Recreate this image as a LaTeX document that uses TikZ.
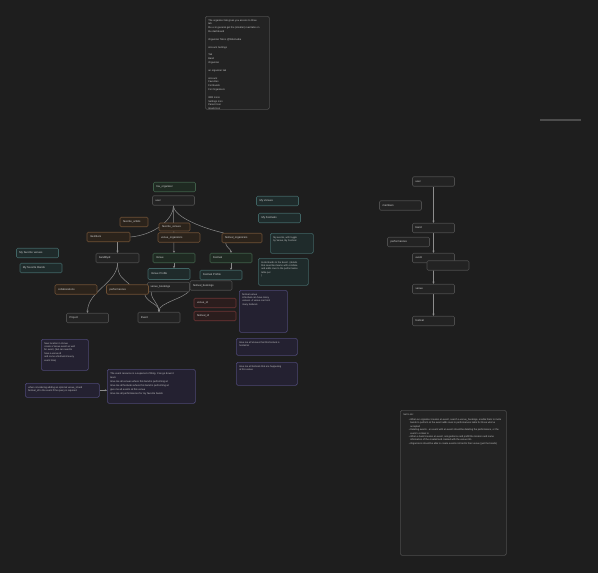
\documentclass[tikz,border=0pt]{standalone}
\usepackage{fontspec}
\setmainfont{Liberation Sans}
\usepackage{xcolor}
\usetikzlibrary{arrows.meta}

\definecolor{canvas}{HTML}{1E1E1E}
\definecolor{grayline}{HTML}{4C4C4C}
\definecolor{grayfill}{HTML}{232323}
\definecolor{greenline}{HTML}{3F5E48}
\definecolor{greenfill}{HTML}{1F2A22}
\definecolor{tealline}{HTML}{406464}
\definecolor{tealfill}{HTML}{1F2B2B}
\definecolor{brownline}{HTML}{6E5035}
\definecolor{brownfill}{HTML}{2B231B}
\definecolor{redline}{HTML}{6E3535}
\definecolor{redfill}{HTML}{2B1D1D}
\definecolor{purpleline}{HTML}{4D4775}
\definecolor{purplefill}{HTML}{242131}
\definecolor{edgecol}{HTML}{8C8C8C}
\definecolor{txt}{HTML}{D2D2D2}
\definecolor{notetxt}{HTML}{C4C4C4}

\newcommand\labfont{\fontsize{2.7}{3.2}\selectfont}
\newcommand\notefont{\fontsize{2.4}{3.4}\selectfont}
\newcommand\notebody[3]{\parbox[t][#2][t]{#1}{\raggedright #3}}

\pgfdeclarelayer{bg}
\pgfdeclarelayer{edges}
\pgfsetlayers{bg,edges,main}

\tikzset{
	box/.style={rounded corners=1.2pt, line width=.6pt, minimum height=9.5pt, inner xsep=3pt, inner ysep=0pt, text width=36pt, align=left, font=\labfont, text=txt},
	graybox/.style={box, draw=grayline, fill=grayfill},
	greenbox/.style={box, draw=greenline, fill=greenfill},
	tealbox/.style={box, draw=tealline, fill=tealfill},
	brownbox/.style={box, draw=brownline, fill=brownfill},
	redbox/.style={box, draw=redline, fill=redfill},
	note/.style={rounded corners=1.5pt, line width=.6pt, anchor=north west, inner sep=3pt, font=\notefont, text=notetxt},
	graynote/.style={note, draw=grayline, fill=grayfill},
	tealnote/.style={note, draw=tealline, fill=tealfill},
	purplenote/.style={note, draw=purpleline, fill=purplefill},
	link/.style={draw=edgecol, line width=.5pt},
	linkto/.style={link, -{Stealth[length=2.2pt,width=2pt]}}
}

\begin{document}
\begin{tikzpicture}[x=1pt, y=-1pt]
	\begin{pgfonlayer}{bg}
		\fill[canvas] (0,0) rectangle (598,573);
	\end{pgfonlayer}
	\useasboundingbox (0,0) rectangle (598,573);

	% organizer tab note
	\node[graynote] (tabnote) at (205,16) {\notebody{58pt}{87pt}{\fontsize{2.5}{3.8}\selectfont
		The organizer tab gives you access to three\\
		tab\\
		the ui in general get the (smaller) road tabs on\\
		the dashboard\\[4pt]
		Organizer Tab is @Wikimedia\\[4pt]
		Account Settings\\[4pt]
		Tab\\
		Band\\
		Organizer\\[4pt]
		an organizer tab\\[4pt]
		Account\\
		Favorites\\
		For Bands\\
		For Organizers\\[4pt]
		With Icons\\
		Settings Icon\\
		Parent Icon\\
		Goals Icon}};

	\draw[grayline, line width=1.2pt] (540,120) -- (581,120);

	% schema
	\node[greenbox] (favorg) at (174.5,187) {fav\_organizer};
	\node[graybox] (user) at (173.5,200.5) {user};
	\node[tealbox] (myvenues) at (277.5,201) {My Venues};
	\node[tealbox] (myfests) at (279.5,218) {My Festivals};
	\node[brownbox, text width=22pt] (favartists) at (134,222) {favorite\_artists};
	\node[brownbox, text width=25pt, minimum height=8pt] (favvenues) at (174.5,227) {favorite\_venues};
	\node[brownbox] (venueorgs) at (179,237.5) {venue\_organizers};
	\node[brownbox, text width=37pt] (members) at (108.5,237) {members};
	\node[brownbox, text width=34pt] (festorgs) at (242,238) {festival\_organizers};
	\node[graybox, text width=37pt] (bandbyid) at (117.5,258) {bandByid};
	\node[greenbox] (venue) at (174,258) {Venue};
	\node[greenbox] (festival) at (231,258) {Festival};
	\node[tealbox, minimum height=11pt] (venueprof) at (169,274) {Venue Profile};
	\node[tealbox] (festprof) at (221,275) {Festival Profile};
	\node[graybox] (venuebook) at (168.5,287) {venue\_bookings};
	\node[graybox] (festbook) at (211,285.5) {festival\_bookings};
	\node[brownbox] (collabs) at (76,289.5) {collaborations};
	\node[brownbox] (perfs) at (127.5,289.5) {performances};
	\node[graybox] (project) at (87.5,318) {Project};
	\node[graybox, minimum height=10.5pt] (event) at (159,317.5) {Event};
	\node[redbox] (venueid) at (215,303) {venue\_id};
	\node[redbox] (festid) at (215,316) {festival\_id};
	\node[tealbox] (favvenuelist) at (37.5,253) {My favorite venues};
	\node[tealbox] (favbandlist) at (41,268) {My favorite Bands};

	\begin{pgfonlayer}{edges}
		\draw[link] (user.south) .. controls +(0,14) and +(24,-2) .. (members.east);
		\draw[linkto] (bandbyid.north |- members.south) -- (bandbyid.north);
		\draw[linkto] (user.south) -- (venue.north);
		\draw[link] (user.south) .. controls +(0,12) and +(-18,-4) .. ([xshift=2pt]festorgs.north west);
		\draw[linkto] ([xshift=4pt]festorgs.south west) .. controls +(0,4) and +(0,-4) .. (festival.north);
		\draw[linkto] (venue.south) -- (venue.south |- venueprof.north);
		\draw[linkto] (festival.south) -- (festival.south |- festprof.north);
		\draw[linkto] (bandbyid.south) .. controls +(0,20) and +(0,-22) .. (project.north);
		\draw[link] (bandbyid.south) .. controls +(0,14) and +(-6,-6) .. ([xshift=2pt]perfs.north);
		\draw[linkto] ([xshift=-4pt]perfs.south east) .. controls +(2,8) and +(0,-8) .. (event.north);
		\draw[linkto] ([xshift=4pt]venuebook.south west) .. controls +(0,8) and +(0,-8) .. (event.north);
		\draw[linkto] (festbook.south west) .. controls +(-6,8) and +(0,-9) .. (event.north);
	\end{pgfonlayer}

	% notes
	\node[tealnote] (eventsnote) at (270,233) {\notebody{37pt}{14pt}{%
		My events, with toggle\\
		by Venue, By Festival}};
	\node[tealnote] (invitenote) at (258,258) {\notebody{44pt}{21pt}{%
		Invite Bands to the Event. (details\\
		that searches teams with combine\\
		and adds rows to the performance\\
		table per\\
		)}};
	\node[purplenote] (festvenuenote) at (239,290) {\notebody{42pt}{36pt}{%
		festival-venue\\
		A festival can have many\\
		venues. A venue can host\\
		many festivals}};
	\node[purplenote] (givevenues) at (236,338) {\notebody{55pt}{11pt}{%
		Give me all Venues that this festival is\\
		hosted at}};
	\node[purplenote] (givefests) at (236,362) {\notebody{55pt}{17pt}{%
		Give me all festivals that are happening\\
		at this venue}};
	\node[purplenote] (locnote) at (41,339) {\notebody{41pt}{25pt}{%
		New location in Venue\\
		create a Venue event as well\\
		for event, (but can need to\\
		have a venue id\\
		and some a festival id every\\
		event time)}};
	\node[purplenote] (optnote) at (25,383) {\notebody{68pt}{8pt}{%
		when considering adding an optional venue\_id and\\
		festival\_id to the event if the query is required}};
	\node[purplenote] (eventnote) at (107,369) {\notebody{82pt}{28pt}{\fontsize{2.5}{4.1}\selectfont
		The event resource is a superset of thing. Can go down it\\
		tears\\
		Give me all venues where this band is performing at\\
		Give me all festivals where this band is performing at\\
		give me all events at this venue\\
		Give me all performances for my favorite bands}};
	\draw[linkto] (optnote.east) -- (eventnote.west |- optnote.east);

	% flow
	\node[graybox] (user2) at (433.5,181.5) {user};
	\node[graybox] (members2) at (400.5,205.5) {members};
	\node[graybox] (band) at (433.5,228) {band};
	\node[graybox] (perfs2) at (408.5,242) {performances};
	\node[graybox] (event2) at (433.5,258) {event};
	\node[graybox] (spare) at (448,265.5) {};
	\node[graybox] (venue2) at (433.5,289) {venue};
	\node[graybox] (festival2) at (433.5,321) {festival};

	\begin{pgfonlayer}{edges}
		\draw[linkto] (user2) -- (band);
		\draw[linkto] (band) -- (event2);
		\draw[linkto] (event2) -- (venue2);
		\draw[linkto] (venue2) -- (festival2);
	\end{pgfonlayer}

	% to do
	\node[graynote] (todo) at (400,410) {\notebody{100pt}{139pt}{%
		Set to do:\par\vspace{2pt}
		{\leftskip=7pt
		\noindent\llap{\textbullet\ }When an organizer creates an event, search a venue\_bookings, enable them to invite bands to perform at the event adds rows to performances table for those who've accepted\par
		\noindent\llap{\textbullet\ }Deleting events - an event with an event should be deleting the performance, or the event's contain to\par
		\noindent\llap{\textbullet\ }When a band creates an event, ask geofence and prefill the location and name information of the created and created with the venue info\par
		\noindent\llap{\textbullet\ }Organizers should be able to create events not tied to their venue (just the bands)\par}}};
\end{tikzpicture}
\end{document}
